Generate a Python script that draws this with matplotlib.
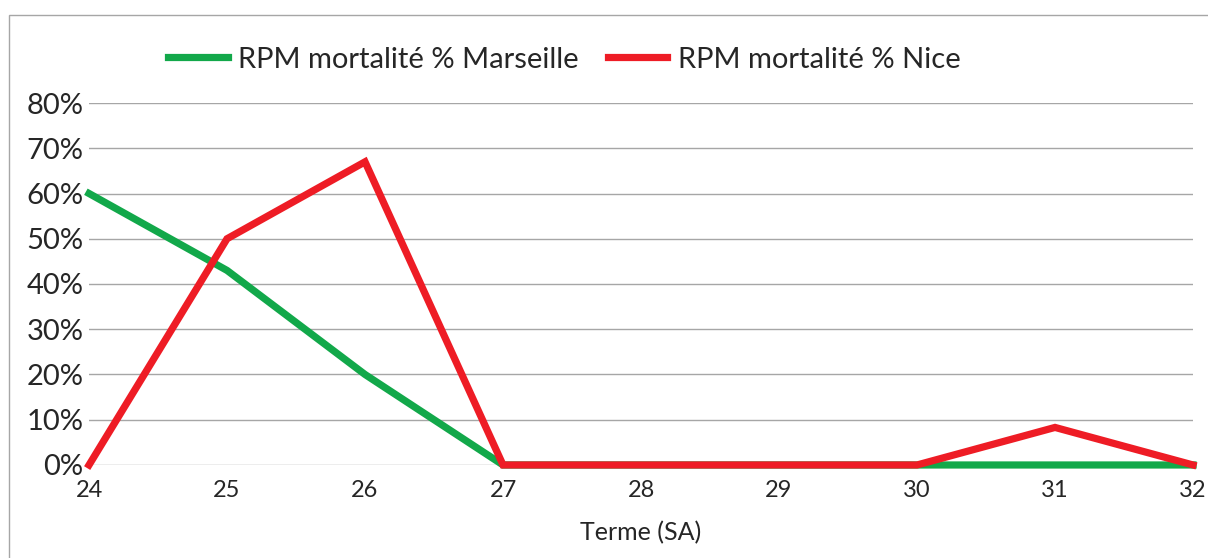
import matplotlib.pyplot as plt
from matplotlib.patches import Rectangle

plt.rcParams['font.family'] = ['Lato', 'DejaVu Sans']

terme = [24, 25, 26, 27, 28, 29, 30, 31, 32]
marseille = [60, 43, 20, 0, 0, 0, 0, 0, 0]
nice = [0, 50, 67, 0, 0, 0, 0, 8.3, 0]
yticks = [0, 10, 20, 30, 40, 50, 60, 70, 80]

fig = plt.figure(figsize=(12.08, 5.58), dpi=100)
ax = fig.add_axes([0.0737, 0.1667, 0.9139, 0.6487])

ax.plot(terme, marseille, color='#12a84a', lw=5.2, label='RPM mortalité % Marseille',
        solid_joinstyle='miter', zorder=3, clip_on=False)
ax.plot(terme, nice, color='#ee1c25', lw=5.2, label='RPM mortalité % Nice',
        solid_joinstyle='miter', zorder=4, clip_on=False)

ax.set_xlim(24, 32)
ax.set_ylim(0, 80)
ax.set_yticks(yticks)
ax.set_yticklabels([f'{v}%' for v in yticks], fontsize=21, color='#262626')
ax.set_xticks(terme)
ax.set_xticklabels([str(t) for t in terme], fontsize=17, color='#262626')
ax.tick_params(length=0)
ax.tick_params(axis='x', pad=11)
ax.tick_params(axis='y', pad=4)
ax.grid(axis='y', color='#a6a6a6', lw=1)
ax.set_axisbelow(True)
for s in ax.spines.values():
    s.set_visible(False)
ax.set_xlabel('Terme (SA)', fontsize=18, color='#262626', labelpad=14)

fig.legend(loc='center', bbox_to_anchor=(0.467, 0.893), ncol=2, frameon=False,
           fontsize=21, handlelength=2.05, columnspacing=1.0, handletextpad=0.35,
           labelcolor='#262626')

fig.patches.append(Rectangle((9 / 1208, -0.1), 1.2, 1 - 15 / 558 + 0.1,
                             transform=fig.transFigure, fill=False,
                             edgecolor='#a6a6a6', lw=1))

fig.savefig('out.png', dpi=100)
